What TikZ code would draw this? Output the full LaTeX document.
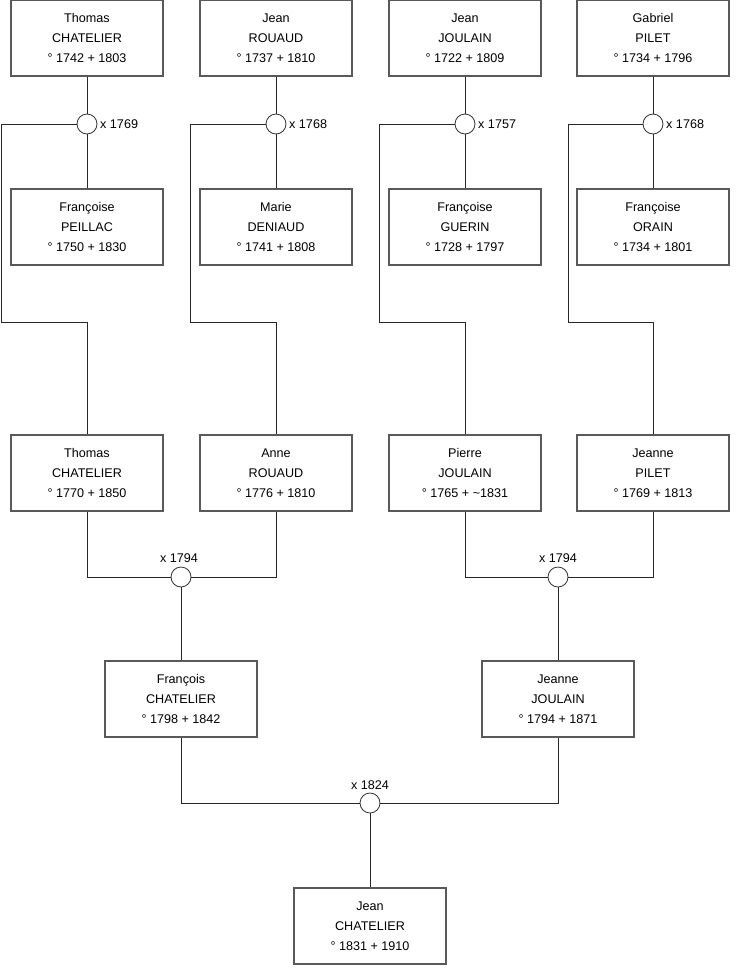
\documentclass[tikz,border=0pt]{standalone}
\usepackage{fontspec}
\setmainfont{Liberation Sans}
\begin{document}
\begin{tikzpicture}[x=1pt,y=-1pt,
  person/.style={draw=black!65,line width=1.1pt,fill=white,minimum width=152pt,minimum height=76pt,inner sep=0pt,align=center,font=\fontsize{12.6}{20}\selectfont},
  wed/.style={draw=black!80,line width=0.8pt,fill=white,circle,minimum size=20pt,inner sep=0pt},
  lbl/.style={font=\fontsize{12.6}{15}\selectfont,inner sep=0pt},
  link/.style={draw=black!85,line width=0.8pt}]
\useasboundingbox (0,0) rectangle (740,975);
\fill[white] (0,0) rectangle (740,975);
% top row
\node[person] (T1) at (87,38) {Thomas\\CHATELIER\\° 1742 + 1803};
\node[person] (T2) at (276,38) {Jean\\ROUAUD\\° 1737 + 1810};
\node[person] (T3) at (465,38) {Jean\\JOULAIN\\° 1722 + 1809};
\node[person] (T4) at (653,38) {Gabriel\\PILET\\° 1734 + 1796};
% wives
\node[person] (W1) at (87,227) {Françoise\\PEILLAC\\° 1750 + 1830};
\node[person] (W2) at (276,227) {Marie\\DENIAUD\\° 1741 + 1808};
\node[person] (W3) at (465,227) {Françoise\\GUERIN\\° 1728 + 1797};
\node[person] (W4) at (653,227) {Françoise\\ORAIN\\° 1734 + 1801};
% marriages top
\node[wed] (c1) at (87,124) {};
\node[wed] (c2) at (276,124) {};
\node[wed] (c3) at (465,124) {};
\node[wed] (c4) at (653,124) {};
\node[lbl,anchor=west] (l1) at (100,124) {x 1769};
\node[lbl,anchor=west] (l2) at (289,124) {x 1768};
\node[lbl,anchor=west] (l3) at (478,124) {x 1757};
\node[lbl,anchor=west] (l4) at (666,124) {x 1768};
% third row
\node[person] (P1) at (87,473) {Thomas\\CHATELIER\\° 1770 + 1850};
\node[person] (P2) at (276,473) {Anne\\ROUAUD\\° 1776 + 1810};
\node[person] (P3) at (465,473) {Pierre\\JOULAIN\\° 1765 + \textasciitilde 1831};
\node[person] (P4) at (653,473) {Jeanne\\PILET\\° 1769 + 1813};
\coordinate (b1) at (1,322);
\coordinate (b2) at (190,322);
\coordinate (b3) at (379,322);
\coordinate (b4) at (568,322);
% marriages middle
\node[wed] (m1) at (181,577) {};
\node[wed] (m2) at (558,577) {};
\node[lbl] (lm1) at (179,558) {x 1794};
\node[lbl] (lm2) at (558,558) {x 1794};
\node[person] (F) at (181,699) {François\\CHATELIER\\° 1798 + 1842};
\node[person] (J) at (558,699) {Jeanne\\JOULAIN\\° 1794 + 1871};
\node[wed] (m3) at (370,803) {};
\node[lbl] (lm3) at (370,785) {x 1824};
\node[person] (JC) at (370,926) {Jean\\CHATELIER\\° 1831 + 1910};
% connectors
\foreach \i in {1,2,3,4}{
  \draw[link] (T\i.south) -- (c\i.north);
  \draw[link] (c\i.south) -- (W\i.north);
  \draw[link] (c\i.west) -| (b\i) -| (P\i.north);
}
\draw[link] (P1.south) |- (m1.west);
\draw[link] (P2.south) |- (m1.east);
\draw[link] (P3.south) |- (m2.west);
\draw[link] (P4.south) |- (m2.east);
\draw[link] (m1.south) -- (F.north);
\draw[link] (m2.south) -- (J.north);
\draw[link] (F.south) |- (m3.west);
\draw[link] (J.south) |- (m3.east);
\draw[link] (m3.south) -- (JC.north);
\end{tikzpicture}
\end{document}
